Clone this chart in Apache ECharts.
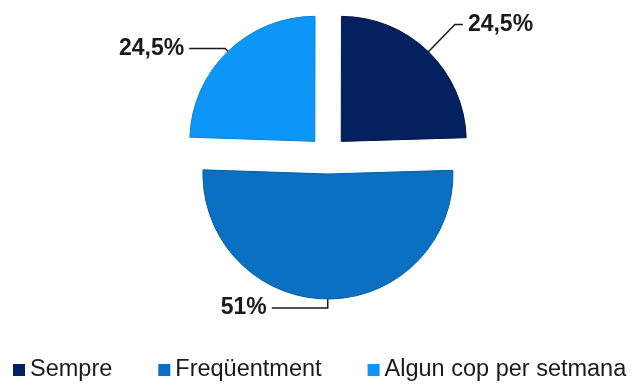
<!DOCTYPE html>
<html>
<head>
<meta charset="utf-8">
<script src="https://cdn.jsdelivr.net/npm/echarts@6/dist/echarts.min.js"></script>
<style>html,body{margin:0;padding:0;background:#fff}#c{width:638px;height:385px}</style>
</head>
<body>
<div id="c"></div>
<script>
var categories = ['Sempre', 'Freqüentment', 'Algun cop per setmana'];
var values = [24.5, 51, 24.5];
var labels = ['24,5%', '51%', '24,5%'];
var colors = ['#04215F', '#0A70C1', '#0C97F8'];
var borders = ['#021640', '#065CA0', '#0A7FD4'];
var lineLen = [[38, 8], [9, 56], [4, 36]];

var chart = echarts.init(document.getElementById('c'));
var data = categories.map(function (n, i) {
  return {
    name: n,
    value: values[i],
    selected: true,
    itemStyle: { color: colors[i], borderColor: borders[i], borderWidth: 1 },
    select: { itemStyle: { color: colors[i], borderColor: borders[i], borderWidth: 1 } },
    label: { formatter: labels[i] },
    labelLine: { length: lineLen[i][0], length2: lineLen[i][1] }
  };
});
chart.setOption({
  animation: false,
  legend: {
    left: 13,
    width: 625,
    top: 358,
    padding: 0,
    icon: 'rect',
    itemWidth: 12,
    itemHeight: 12,
    itemGap: 46,
    selectedMode: false,
    itemStyle: { borderWidth: 0 },
    textStyle: { fontFamily: 'Liberation Sans, Arial, sans-serif', fontSize: 23.5, color: '#1a1a1a' },
    data: categories
  },
  series: [{
    type: 'pie',
    center: [328, 155],
    radius: 125,
    startAngle: 89.9,
    clockwise: true,
    selectedMode: 'multiple',
    selectedOffset: 19,
    silent: true,
    emphasis: { disabled: true },
    avoidLabelOverlap: false,
    label: {
      show: true,
      position: 'outside',
      fontFamily: 'Liberation Sans, Arial, sans-serif',
      fontWeight: 'bold',
      fontSize: 23,
      color: '#1a1a1a'
    },
    labelLine: { show: true, lineStyle: { color: '#1a1a1a', width: 1.5 } },
    data: data
  }]
});
</script>
</body>
</html>
